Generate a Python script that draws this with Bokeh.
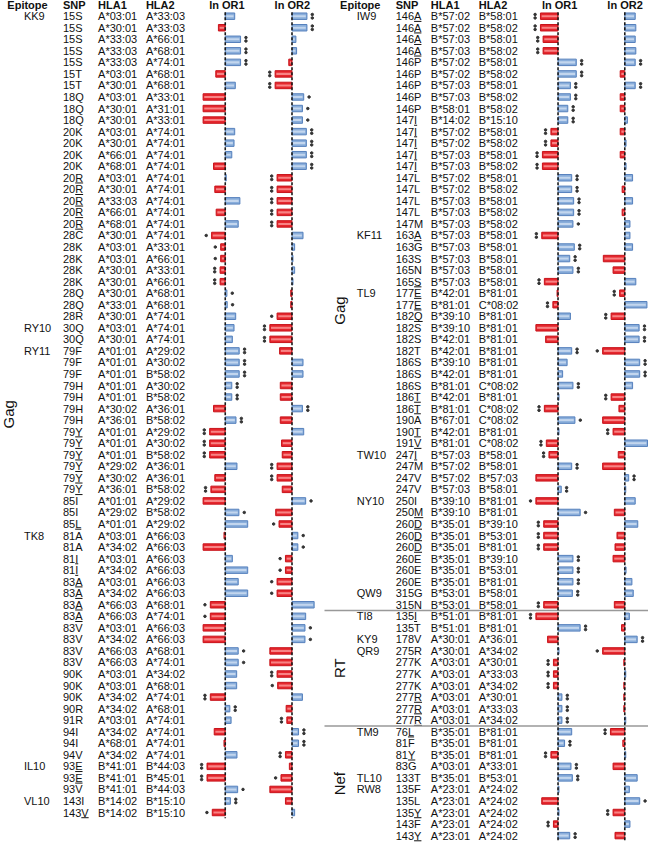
from bokeh.plotting import figure
from bokeh.models import Range1d, ColumnDataSource
from bokeh.core.properties import value
from bokeh.embed import file_html
from bokeh.resources import INLINE
import math

# ---------------- LEFT PANEL DATA ----------------
left_epitope = ["KK9"] + [""] * 26 + ["RY10", "", "RY11"] + [""] * 15 + ["TK8"] + [""] * 19 + ["IL10", "", "", "VL10", ""]
left_snp = ["15S", "15S", "15S", "15S", "15S", "15T", "15T", "18Q", "18Q", "18Q",
            "20K", "20K", "20K", "20K", "20R", "20R", "20R", "20R", "20R", "28C",
            "28K", "28K", "28K", "28K", "28Q", "28Q", "28R", "30Q", "30Q", "79F",
            "79F", "79F", "79H", "79H", "79H", "79H", "79Y", "79Y", "79Y", "79Y",
            "79Y", "79Y", "85I", "85I", "85L", "81A", "81A", "81I", "81I", "83A",
            "83A", "83A", "83A", "83V", "83V", "83V", "83V", "90K", "90K", "90K",
            "90R", "91R", "94I", "94I", "94V", "93E", "93E", "93V", "143I", "143V"]
left_underlined = ["20R", "79Y", "85L", "81I", "83A", "93E", "143V"]
left_hla1 = ["A*03:01", "A*30:01", "A*33:03", "A*33:03", "A*33:03", "A*03:01", "A*30:01", "A*03:01", "A*30:01", "A*30:01",
             "A*03:01", "A*30:01", "A*66:01", "A*68:01", "A*03:01", "A*30:01", "A*33:03", "A*66:01", "A*68:01", "A*30:01",
             "A*03:01", "A*03:01", "A*30:01", "A*30:01", "A*30:01", "A*33:01", "A*30:01", "A*03:01", "A*30:01", "A*01:01",
             "A*01:01", "A*01:01", "A*01:01", "A*01:01", "A*30:02", "A*36:01", "A*01:01", "A*01:01", "A*01:01", "A*29:02",
             "A*30:02", "A*36:01", "A*01:01", "A*29:02", "A*01:01", "A*03:01", "A*34:02", "A*03:01", "A*34:02", "A*03:01",
             "A*34:02", "A*66:03", "A*66:03", "A*03:01", "A*34:02", "A*66:03", "A*66:03", "A*03:01", "A*03:01", "A*34:02",
             "A*34:02", "A*03:01", "A*34:02", "A*68:01", "A*34:02", "B*41:01", "B*41:01", "B*41:01", "B*14:02", "B*14:02"]
left_hla2 = ["A*33:03", "A*33:03", "A*66:01", "A*68:01", "A*74:01", "A*68:01", "A*68:01", "A*33:01", "A*31:01", "A*33:01",
             "A*74:01", "A*74:01", "A*74:01", "A*74:01", "A*74:01", "A*74:01", "A*74:01", "A*74:01", "A*74:01", "A*74:01",
             "A*33:01", "A*66:01", "A*33:01", "A*66:01", "A*68:01", "A*68:01", "A*74:01", "A*74:01", "A*74:01", "A*29:02",
             "A*30:02", "B*58:02", "A*30:02", "B*58:02", "A*36:01", "B*58:02", "A*29:02", "A*30:02", "B*58:02", "A*36:01",
             "A*36:01", "B*58:02", "A*29:02", "B*58:02", "A*29:02", "A*66:03", "A*66:03", "A*66:03", "A*66:03", "A*66:03",
             "A*66:03", "A*68:01", "A*74:01", "A*66:03", "A*66:03", "A*68:01", "A*74:01", "A*34:02", "A*68:01", "A*74:01",
             "A*68:01", "A*74:01", "A*74:01", "A*74:01", "A*74:01", "B*44:03", "B*45:01", "B*44:03", "B*15:10", "B*15:10"]
left_lnor1 = [0.97, -0.70, 1.57, 1.57, 1.57, -0.97, 1.03, -2.27, -2.27, -2.27,
              0.97, 0.90, 0.67, -1.20, 0.10, -1.07, 1.50, -0.93, 1.33, -1.40,
              -0.47, -0.47, -0.53, -0.53, 0.17, 0.20, 1.07, 0.90, 0.73, 1.43,
              1.43, 1.43, 0.67, 0.67, -1.20, 1.10, -1.60, -1.60, -1.60, 1.20,
              -1.07, -1.47, -2.27, 1.40, 2.30, -0.13, -2.27, 0.73, 2.30, 1.33,
              2.30, -1.53, -1.53, -2.27, -2.27, 1.33, 1.33, 1.17, 1.17, -1.53,
              0.47, 0.60, -1.13, -0.13, 1.20, -1.87, -1.87, 1.27, 0.53, -1.33]
left_sig1 = [0, 0, 2, 2, 2, 0, 0, 0, 0, 0,
             0, 0, 0, 0, 0, 0, 0, 0, 0, 1,
             1, 1, 2, 2, 1, 1, 0, 0, 0, 2,
             2, 2, 2, 2, 0, 2, 2, 2, 2, 0,
             0, 2, 0, 1, 0, 0, 0, 0, 0, 0,
             0, 1, 1, 0, 0, 1, 1, 0, 0, 2,
             2, 0, 0, 0, 0, 2, 2, 1, 2, 1]
left_lnor2 = [1.53, 1.53, 0.40, 0.47, -0.33, -1.73, -1.73, 1.20, 1.07, 1.07,
              1.47, 1.47, 1.47, 1.47, -1.53, -1.53, -1.53, -1.53, -1.53, 1.13,
              0.27, 0.10, 0.27, 0.10, -0.13, -0.13, -1.53, -2.27, -2.27, -1.27,
              1.13, 1.13, -1.20, -1.20, 1.07, -1.20, 1.20, -1.07, -1.00, -1.53,
              -1.53, -1.00, 1.40, -1.67, -1.33, 0.60, 0.60, -0.67, -0.67, -1.53,
              -1.53, 2.27, 1.40, 1.33, 1.33, -2.27, -2.27, -1.53, -1.47, 1.07,
              -0.60, -0.53, 0.67, 0.67, -0.67, -0.27, -1.13, -2.27, -0.67, 0.27]
left_sig2 = [2, 2, 0, 0, 0, 2, 2, 1, 1, 1,
             2, 2, 2, 2, 2, 2, 2, 2, 2, 0,
             0, 0, 0, 0, 0, 0, 1, 2, 2, 0,
             0, 0, 0, 0, 2, 0, 0, 0, 0, 2,
             2, 0, 1, 0, 1, 1, 1, 1, 1, 1,
             1, 0, 0, 1, 1, 0, 0, 2, 1, 0,
             0, 2, 2, 2, 2, 0, 1, 0, 0, 0]
left_proteins = ["Gag"]
left_protein_sizes = [70]

# ---------------- RIGHT PANEL DATA ----------------
right_epitope = (["IW9"] + [""] * 18 + ["KF11"] + [""] * 4 + ["TL9"] + [""] * 13 + ["TW10"] + [""] * 3 +
                 ["NY10"] + [""] * 7 + ["QW9", "", "TI8", "", "KY9", "QR9"] + [""] * 6 +
                 ["TM9", "", "", "", "TL10", "RW8", "", "", "", ""])
right_snp = ["146A", "146A", "146A", "146A", "146P", "146P", "146P", "146P", "146P", "147I",
             "147I", "147I", "147I", "147I", "147L", "147L", "147L", "147L", "147M", "163A",
             "163G", "163S", "165N", "165S", "177E", "177E", "182Q", "182S", "182S", "182T",
             "186S", "186S", "186S", "186T", "186T", "190A", "190T", "191V", "247I", "247M",
             "247V", "247V", "250I", "250M", "260D", "260D", "260D", "260E", "260E", "260E",
             "315G", "315N", "135I", "135T", "178V", "275R", "277K", "277K", "277K", "277R",
             "277R", "277R", "76L", "81F", "81Y", "83G", "133T", "135F", "135L", "135Y",
             "143F", "143Y"]
right_underlined = ["146A", "147I", "163A", "165S", "177E", "182Q", "186T", "190T", "191V", "247I",
                    "250M", "260D", "135I", "277R", "76L", "81Y", "135Y", "143Y"]
right_hla1 = ["B*57:02", "B*57:02", "B*57:03", "B*57:03", "B*57:02", "B*57:02", "B*57:03", "B*57:03", "B*58:01", "B*14:02",
              "B*57:02", "B*57:02", "B*57:03", "B*57:03", "B*57:02", "B*57:02", "B*57:03", "B*57:03", "B*57:03", "B*57:03",
              "B*57:03", "B*57:03", "B*57:03", "B*57:03", "B*42:01", "B*81:01", "B*39:10", "B*39:10", "B*42:01", "B*42:01",
              "B*39:10", "B*42:01", "B*81:01", "B*42:01", "B*81:01", "B*67:01", "B*42:01", "B*81:01", "B*57:03", "B*57:02",
              "B*57:02", "B*57:03", "B*39:10", "B*39:10", "B*35:01", "B*35:01", "B*35:01", "B*35:01", "B*35:01", "B*35:01",
              "B*53:01", "B*53:01", "B*51:01", "B*51:01", "A*30:01", "A*30:01", "A*03:01", "A*03:01", "A*03:01", "A*03:01",
              "A*03:01", "A*03:01", "B*35:01", "B*35:01", "B*35:01", "A*03:01", "B*35:01", "A*23:01", "A*23:01", "A*23:01",
              "A*23:01", "A*23:01"]
right_hla2 = ["B*58:01", "B*58:02", "B*58:01", "B*58:02", "B*58:01", "B*58:02", "B*58:01", "B*58:02", "B*58:02", "B*15:10",
              "B*58:01", "B*58:02", "B*58:01", "B*58:02", "B*58:01", "B*58:02", "B*58:01", "B*58:02", "B*58:02", "B*58:01",
              "B*58:01", "B*58:01", "B*58:01", "B*58:01", "B*81:01", "C*08:02", "B*81:01", "B*81:01", "B*81:01", "B*81:01",
              "B*81:01", "B*81:01", "C*08:02", "B*81:01", "C*08:02", "C*08:02", "B*81:01", "C*08:02", "B*58:01", "B*58:01",
              "B*57:03", "B*58:01", "B*81:01", "B*81:01", "B*39:10", "B*53:01", "B*81:01", "B*39:10", "B*53:01", "B*81:01",
              "B*58:01", "B*58:01", "B*81:01", "B*81:01", "A*36:01", "A*34:02", "A*30:01", "A*33:03", "A*34:02", "A*30:01",
              "A*33:03", "A*34:02", "B*81:01", "B*81:01", "B*81:01", "A*33:01", "B*53:01", "A*24:02", "A*24:02", "A*24:02",
              "A*24:02", "A*24:02"]
right_lnor1 = [-1.80, -1.80, -1.53, -1.53, 1.87, 1.87, 1.27, 1.27, 1.00, 1.00,
               -0.73, -0.73, -1.60, -1.60, 1.40, 1.40, 1.60, 1.60, 1.53, -1.67,
               1.67, 1.20, 1.53, -1.40, -0.10, -0.53, 1.27, -2.27, -1.27, 1.40,
               0.93, 0.47, 1.53, 0.10, -1.40, 1.73, 0.10, -1.20, -0.93, 1.40,
               -2.27, 0.33, -2.27, 2.27, -1.47, -1.47, -1.47, 1.53, 1.53, 1.53,
               1.47, -1.47, -2.27, 2.27, -1.07, 0.10, -0.47, -0.47, -0.47, 0.40,
               0.40, 0.40, 1.40, 0.67, -0.73, 1.33, 1.47, 0.10, -1.67, 0.10,
               -0.47, 1.20]
right_sig1 = [2, 2, 2, 2, 2, 2, 2, 2, 2, 2,
              2, 2, 2, 2, 2, 2, 2, 2, 1, 2,
              2, 2, 2, 2, 0, 2, 0, 0, 0, 2,
              0, 0, 2, 0, 2, 1, 0, 2, 2, 2,
              0, 2, 1, 1, 2, 2, 2, 2, 2, 2,
              2, 2, 2, 2, 0, 0, 2, 2, 2, 2,
              2, 2, 0, 2, 2, 2, 2, 0, 0, 0,
              2, 2]
right_lnor2 = [1.07, 1.13, 1.07, 1.13, 1.07, -0.47, 1.07, -0.47, -0.47, 0.27,
               -0.47, 0.13, -0.47, 0.13, 0.80, -0.27, 0.80, -0.27, 0.53, 0.53,
               0.80, -2.20, -1.20, 1.13, -0.53, 2.27, -1.40, 1.47, 1.47, -2.27,
               1.53, 1.53, 0.80, -1.40, -0.60, -2.27, -1.20, 2.33, -0.67, -2.27,
               0.40, 0.10, 1.07, -1.07, 1.33, -0.80, -1.00, -1.20, 0.13, 0.73,
               0.87, -1.07, 0.47, -0.33, 1.27, -2.27, -0.10, 0.10, -0.10, -0.10,
               -0.10, 0.10, -1.47, -0.20, 0.10, -1.20, 1.27, 0.47, 1.53, -1.20,
               0.53, -1.00]
right_sig2 = [0, 0, 0, 0, 2, 0, 2, 0, 0, 0,
              0, 0, 0, 0, 0, 0, 0, 0, 0, 0,
              0, 0, 0, 0, 2, 0, 2, 2, 2, 1,
              2, 2, 0, 2, 0, 0, 2, 0, 0, 0,
              2, 0, 0, 0, 0, 0, 0, 0, 0, 0,
              0, 0, 0, 0, 2, 1, 0, 0, 0, 0,
              0, 0, 2, 0, 0, 0, 0, 0, 1, 2,
              0, 0]
right_proteins = ["Gag", "RT", "Nef"]
right_protein_sizes = [52, 10, 10]

headers = ["Epitope", "SNP", "HLA1", "HLA2", "ln OR1", "ln OR2"]

# ---------------- LAYOUT ----------------
W, H = 648, 842
REF_W, REF_H = 664, 858
ROW0, ROWH = 16.0, 11.76          # reference px of first row / row pitch
UNIT = 10.0                       # reference px per lnOR unit
FONT = value("Liberation Sans")
FS = 11
SCALE = W / REF_W

p = figure(width=W, height=H, output_backend="svg", toolbar_location=None,
           x_range=Range1d(0, REF_W),
           y_range=Range1d((REF_H - ROW0) / ROWH, (0 - ROW0) / ROWH),
           x_axis_location=None, y_axis_location=None, min_border=0)
p.grid.visible = False
p.outline_line_color = None
p.background_fill_color = "white"

HEADER_Y = (5 - ROW0) / ROWH

EM = {"A": 0.667, "I": 0.278, "L": 0.556, "Y": 0.667, "R": 0.722, "E": 0.667,
      "V": 0.667, "S": 0.667, "Q": 0.778, "T": 0.611, "D": 0.722, "M": 0.833}

RED_FILL, RED_LINE, RED_HI = "#e5262d", "#c8141b", "#f98e8e"
BLUE_FILL, BLUE_LINE, BLUE_HI = "#8aaedb", "#5681bd", "#c9daf0"


def draw_panel(off, epi, snp, h1, h2, or1, or2, s1, s2, underl, prots, psizes, tag, dash_end):
    n = len(snp)
    ys = list(range(n))
    # text columns
    cols = [(24, epi), (64, snp), (100, h1), (149, h2)]
    for x, txt in cols:
        p.text(x=[x + off] * n, y=ys, text=txt, text_font=FONT, text_font_size=f"{FS}px",
               text_baseline="middle", text_align="left", text_color="#111111")
    # underlines
    ux0, ux1, uy = [], [], []
    for i, s in enumerate(snp):
        if s in underl:
            pre = (len(s) - 1) * 0.556 * FS / SCALE
            w = EM.get(s[-1], 0.667) * FS / SCALE
            ux0.append(off + 64 + pre)
            ux1.append(off + 64 + pre + w)
            uy.append(i + 0.45)
    p.segment(x0=ux0, x1=ux1, y0=uy, y1=uy, line_color="#111111", line_width=1)
    # headers
    hx = [7 + off, 64 + off, 100 + off, 149 + off]
    p.text(x=hx, y=[HEADER_Y] * 4, text=headers[:4], text_font=FONT, text_font_size="11px",
           text_font_style="bold", text_baseline="middle", text_align="left", text_color="#111111")
    p.text(x=[232 + off, 299 + off], y=[HEADER_Y] * 2, text=headers[4:], text_font=FONT,
           text_font_size="11px", text_font_style="bold", text_baseline="middle",
           text_align="center", text_color="#111111")
    # protein labels
    start = 0
    px, py = [], []
    for size in psizes:
        px.append(off + (8 if off == 0 else 6))
        py.append(start + (size - 1) / 2)
        start += size
    p.text(x=px, y=py, text=prots, angle=math.pi / 2, text_font=FONT, text_font_size="15px",
           text_baseline="middle", text_align="center", text_color="#111111")
    # separators between protein groups
    bounds = []
    start = 0
    for size in psizes[:-1]:
        start += size
        bounds.append(start - 0.5)
    if bounds:
        p.segment(x0=[off - 9] * len(bounds), x1=[REF_W] * len(bounds), y0=bounds, y1=bounds,
                  line_color="#999999", line_width=1.5)
    # bar columns
    for k, (vals, sig) in enumerate([(or1, s1), (or2, s2)]):
        rname = f"{tag}{k}"
        zero = (230.3 if k == 0 else 298.7) + off
        p.extra_x_ranges[rname] = Range1d(-zero / UNIT, (REF_W - zero) / UNIT)
        fills = [BLUE_FILL if v > 0 else RED_FILL for v in vals]
        lines = [BLUE_LINE if v > 0 else RED_LINE for v in vals]
        his = [BLUE_HI if v > 0 else RED_HI for v in vals]
        src = ColumnDataSource(dict(y=ys, v=vals, z=[0] * n, f=fills, l=lines, h=his,
                                    vi=[v - math.copysign(min(0.12, abs(v) / 3), v) for v in vals],
                                    zi=[math.copysign(min(0.1, abs(v) / 3), v) for v in vals]))
        p.hbar(y="y", left="z", right="v", height=0.56, source=src, fill_color="f",
               line_color="l", line_width=1, x_range_name=rname)
        p.hbar(y="y", left="zi", right="vi", height=0.18, source=src, fill_color="h",
               line_color=None, fill_alpha=0.9, x_range_name=rname)
        # significance dots
        dx, dy = [], []
        for i, (v, s) in enumerate(zip(vals, sig)):
            xx = v + math.copysign(0.55, v)
            if s == 1:
                dx.append(xx); dy.append(i)
            elif s == 2:
                dx += [xx, xx]; dy += [i - 0.15, i + 0.15]
        p.scatter(x=dx, y=dy, size=2.5, color="#333333", x_range_name=rname)
        # dashed zero line
        p.segment(x0=[0], x1=[0], y0=[-0.35], y1=[dash_end], line_color="#1a1a1a",
                  line_width=1.6, line_dash="3 2", x_range_name=rname)


draw_panel(0, left_epitope, left_snp, left_hla1, left_hla2, left_lnor1, left_lnor2,
           left_sig1, left_sig2, left_underlined, left_proteins, left_protein_sizes, "L", len(left_snp) - 0.5)
draw_panel(341, right_epitope, right_snp, right_hla1, right_hla2, right_lnor1, right_lnor2,
           right_sig1, right_sig2, right_underlined, right_proteins, right_protein_sizes, "R", len(right_snp))

open("out.html", "w").write(file_html(p, INLINE))
